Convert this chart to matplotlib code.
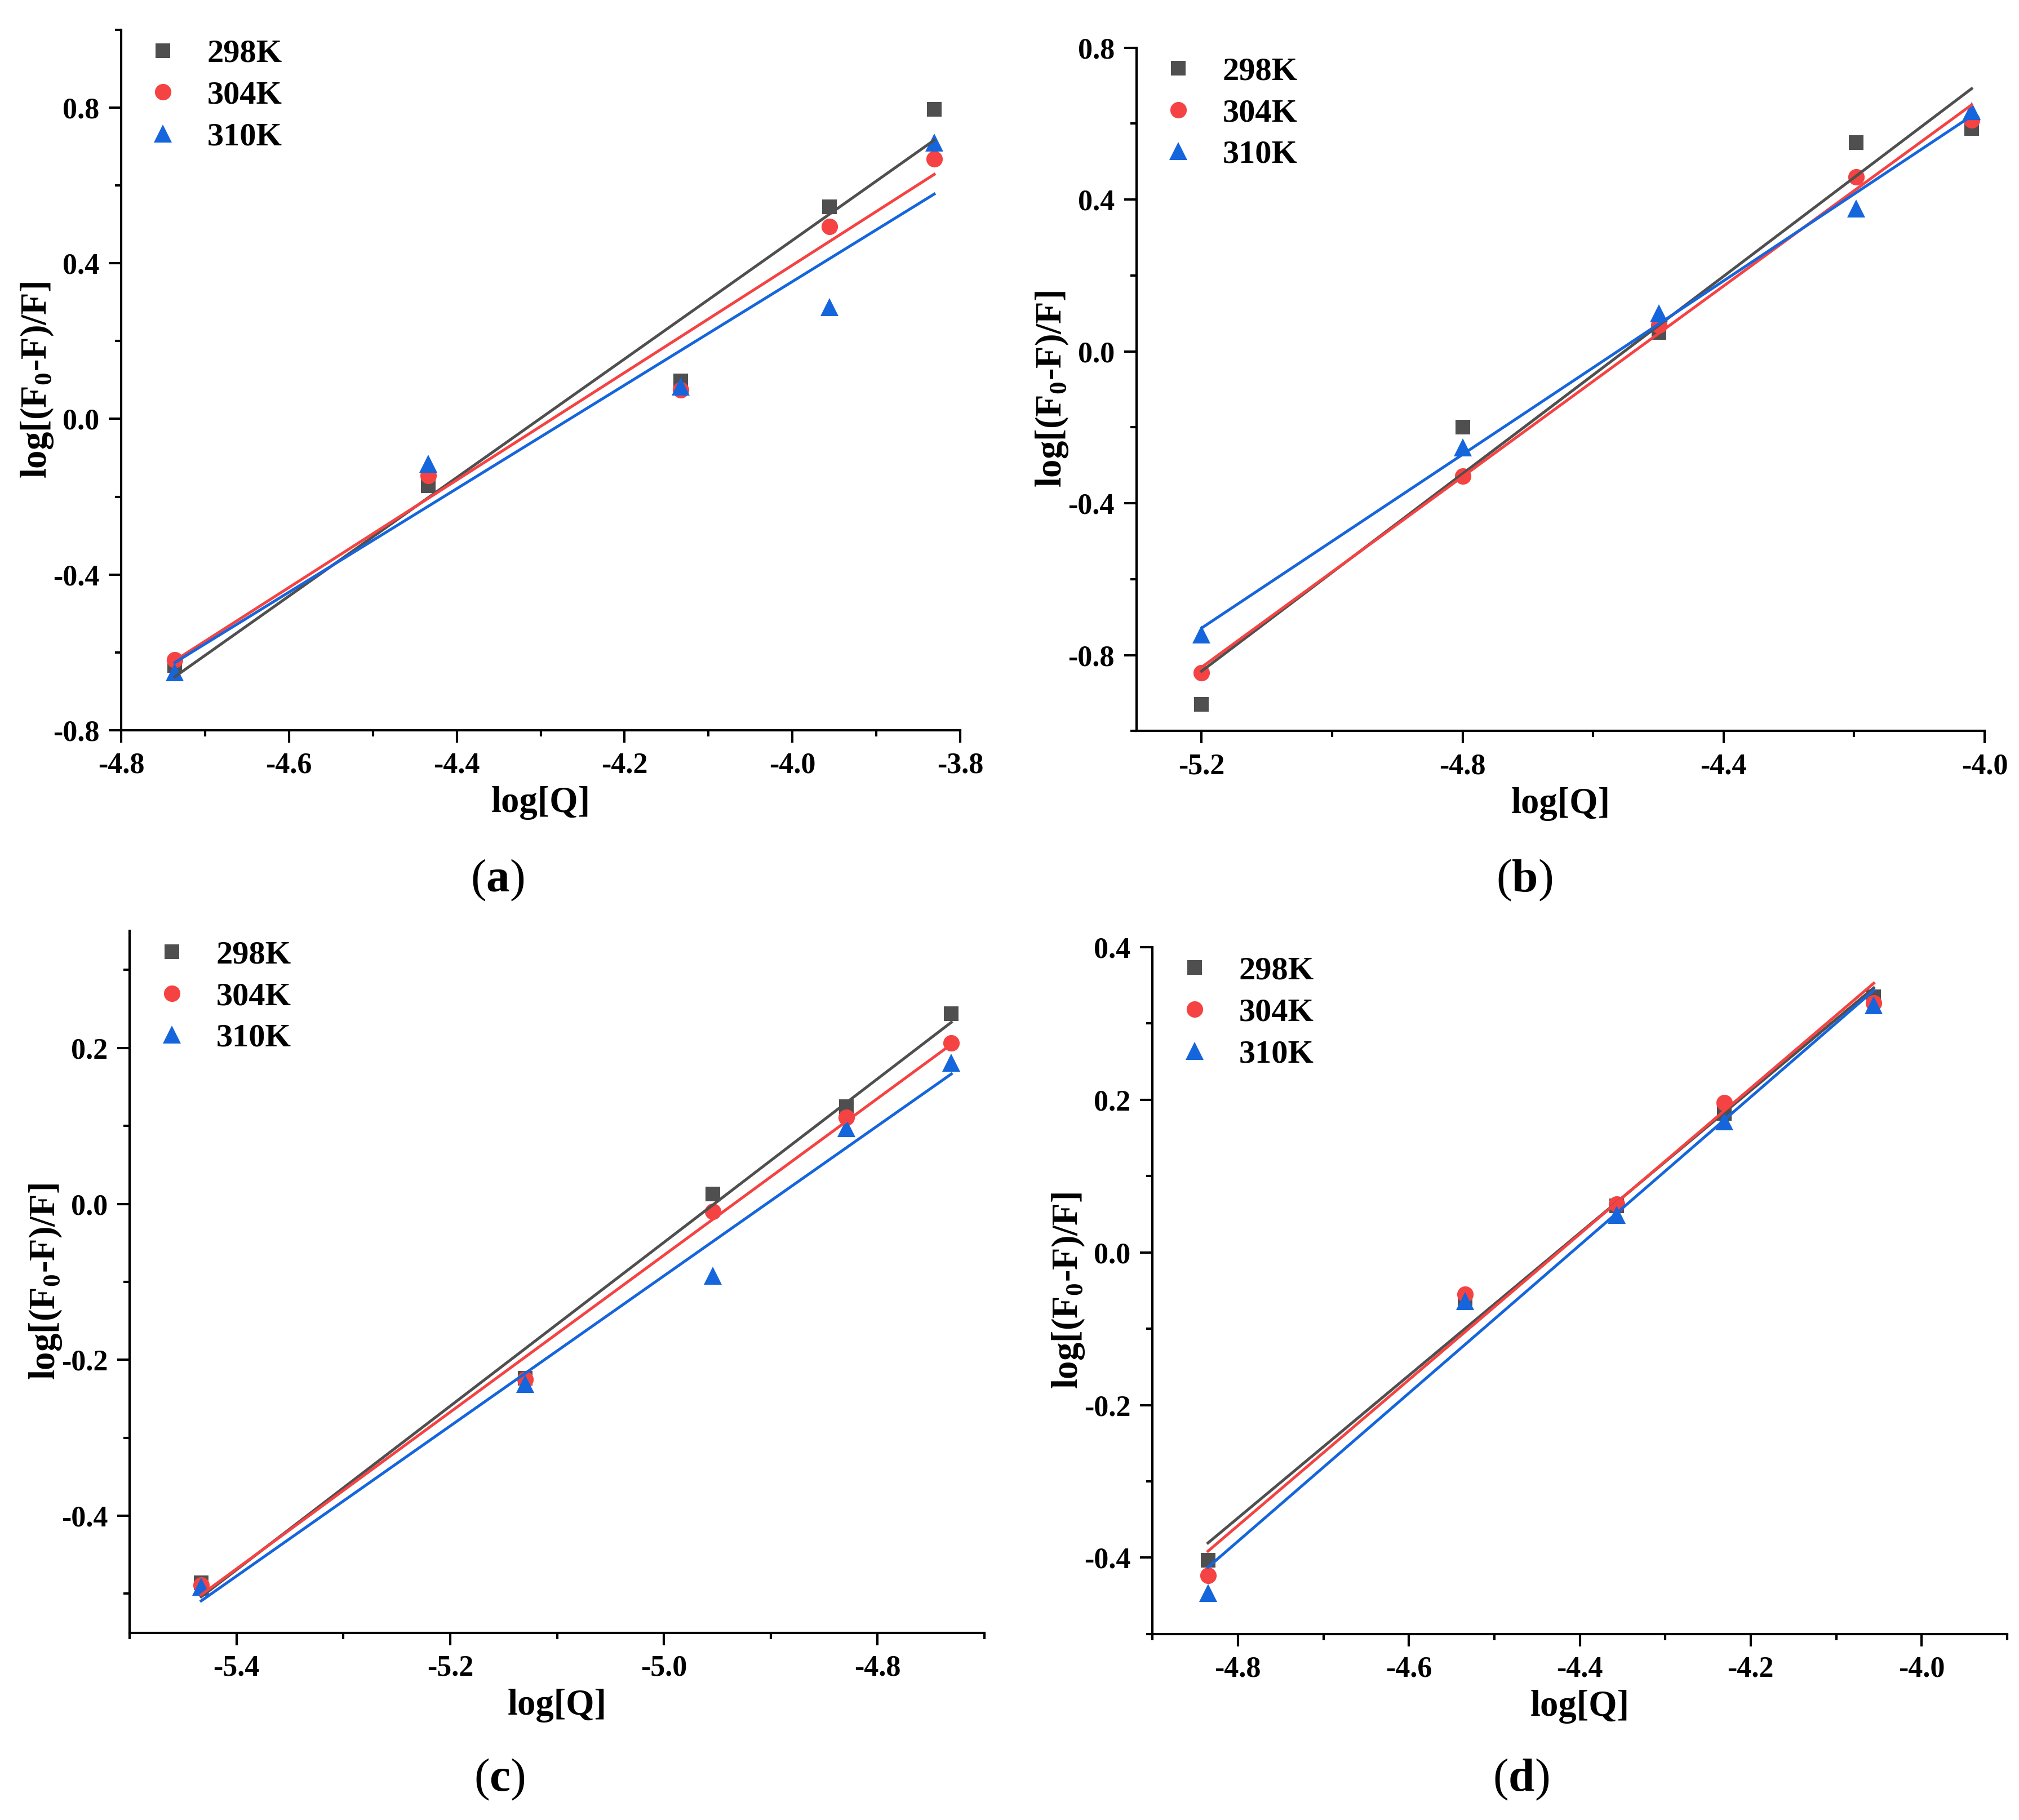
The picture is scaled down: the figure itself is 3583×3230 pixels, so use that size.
import numpy as np
import matplotlib
matplotlib.use('Agg')
import matplotlib.pyplot as plt
from matplotlib.ticker import MultipleLocator, FormatStrFormatter

plt.rcParams['font.family'] = ['Liberation Serif', 'DejaVu Serif']
plt.rcParams['font.weight'] = 'bold'
plt.rcParams['mathtext.fontset'] = 'custom'
plt.rcParams['mathtext.rm'] = 'Liberation Serif'
plt.rcParams['mathtext.bf'] = 'Liberation Serif:bold'

# DATA
labels = ['298K', '304K', '310K']

a_x = [-4.736, -4.434, -4.133, -3.956, -3.831]
a_298 = [-0.633, -0.171, 0.097, 0.545, 0.796]
a_304 = [-0.619, -0.146, 0.074, 0.494, 0.668]
a_310 = [-0.651, -0.115, 0.083, 0.288, 0.710]

b_x = [-5.200, -4.800, -4.499, -4.197, -4.020]
b_298 = [-0.929, -0.199, 0.050, 0.550, 0.587]
b_304 = [-0.846, -0.329, 0.070, 0.459, 0.609]
b_310 = [-0.746, -0.253, 0.101, 0.376, 0.633]

c_x = [-5.433, -5.130, -4.954, -4.829, -4.731]
c_298 = [-0.486, -0.224, 0.013, 0.125, 0.244]
c_304 = [-0.489, -0.225, -0.010, 0.111, 0.206]
c_310 = [-0.491, -0.231, -0.092, 0.097, 0.181]

d_x = [-4.835, -4.534, -4.357, -4.231, -4.056]
d_298 = [-0.403, -0.060, 0.061, 0.182, 0.335]
d_304 = [-0.423, -0.055, 0.063, 0.196, 0.327]
d_310 = [-0.446, -0.064, 0.049, 0.172, 0.324]

colors = ['#4f4f4f', '#f54242', '#1565dc']
markers = ['s', 'o', '^']
msizes = [6.2, 7.0, 7.6]

panels = [
    # rect, data, xlim, ylim, xmajor, xminor, ymajor, yminor, tag, tag pos
    ([0.0600, 0.5988, 0.4156, 0.3848], a_x, [a_298, a_304, a_310],
     (-4.8, -3.8), (-0.8, 1.0), 0.2, 0.1, 0.4, 0.2, 'a', (0.2464, 0.5164)),
    ([0.5628, 0.5983, 0.4202, 0.3755], b_x, [b_298, b_304, b_310],
     (-5.3, -4.0), (-1.0, 0.8), 0.4, 0.2, 0.4, 0.2, 'b', (0.7550, 0.5164)),
    ([0.0642, 0.1029, 0.4234, 0.3856], c_x, [c_298, c_304, c_310],
     (-5.5, -4.7), (-0.55, 0.35), 0.2, 0.1, 0.2, 0.1, 'c', (0.2475, 0.0223)),
    ([0.5708, 0.1022, 0.4233, 0.3774], d_x, [d_298, d_304, d_310],
     (-4.9, -3.9), (-0.5, 0.4), 0.2, 0.1, 0.2, 0.1, 'd', (0.7533, 0.0223)),
]

fig = plt.figure(figsize=(3583 / 300, 3230 / 300), dpi=300)

for rect, xs, ys, xlim, ylim, xmaj, xmin, ymaj, ymin, tag, tagpos in panels:
    ax = fig.add_axes(rect)
    xs = np.array(xs)
    for y, c, m, ms, lab in zip(ys, colors, markers, msizes, labels):
        ax.plot(xs, y, linestyle='none', marker=m, ms=ms, color=c,
                markeredgewidth=0, label=lab, zorder=2, clip_on=False)
    for y, c in zip(ys, colors):
        k, b = np.polyfit(xs, y, 1)
        xx = np.array([xs.min(), xs.max()])
        ax.plot(xx, k * xx + b, color=c, lw=1.2, zorder=3)

    ax.set_xlim(*xlim)
    ax.set_ylim(*ylim)
    ax.xaxis.set_major_locator(MultipleLocator(xmaj))
    ax.xaxis.set_minor_locator(MultipleLocator(xmin))
    ax.yaxis.set_major_locator(MultipleLocator(ymaj))
    ax.yaxis.set_minor_locator(MultipleLocator(ymin))
    ax.xaxis.set_major_formatter(FormatStrFormatter('%.1f'))
    ax.yaxis.set_major_formatter(FormatStrFormatter('%.1f'))
    ax.spines['top'].set_visible(False)
    ax.spines['right'].set_visible(False)
    ax.spines['left'].set_linewidth(1.0)
    ax.spines['bottom'].set_linewidth(1.0)
    ax.tick_params(which='major', direction='out', length=5.3, width=1.0,
                   labelsize=12.5, pad=4)
    ax.tick_params(which='minor', direction='out', length=2.6, width=1.0)

    ax.set_xlabel('log[Q]', fontsize=15.5, fontweight='bold', labelpad=3)
    ax.set_ylabel(r'log[(F$_\mathbf{0}$-F)/F]', fontsize=15.5,
                  fontweight='bold', labelpad=-1)

    ax.legend(loc='upper left', bbox_to_anchor=(0.030, 0.987), frameon=False,
              fontsize=14, handlelength=1.0, handletextpad=0.85,
              labelspacing=0.36, borderaxespad=0, borderpad=0)

    fig.text(tagpos[0], tagpos[1], r'($\mathbf{' + tag + r'}$)', fontsize=20,
             fontweight='normal', ha='center', va='center')

fig.savefig('out.png', dpi=300)
